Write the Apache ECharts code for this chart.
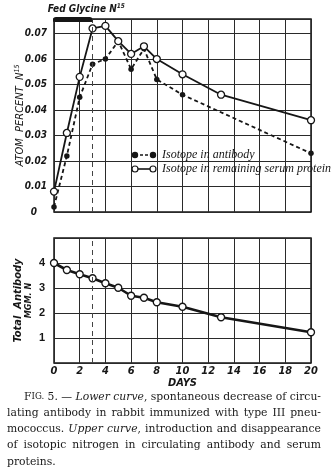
<!DOCTYPE html>
<html>
<head>
<meta charset="utf-8">
<style>
  html, body { margin: 0; padding: 0; background: #fff; }
  #chart { width: 331px; height: 468px; }
</style>
<script src="https://cdn.jsdelivr.net/npm/echarts@6/dist/echarts.min.js"></script>
</head>
<body>
<div id="chart"></div>
<script>
// ---- data ----
const isoDays = [0, 1, 2, 3, 4, 5, 6, 7, 8, 10, 13, 20];
const serumN15 = [0.008, 0.031, 0.053, 0.072, 0.073, 0.067, 0.062, 0.065, 0.060, 0.054, 0.046, 0.036];
const antibodyDays = [0, 1, 2, 3, 4, 5, 6, 7, 8, 10, 20];
const antibodyN15 = [0.002, 0.022, 0.045, 0.058, 0.060, 0.067, 0.056, 0.064, 0.052, 0.046, 0.023];
const totalDays = [0, 1, 2, 3, 4, 5, 6, 7, 8, 10, 13, 20];
const totalAntibody = [4.0, 3.72, 3.55, 3.39, 3.19, 3.01, 2.69, 2.61, 2.43, 2.25, 1.83, 1.23];
const fedPeriod = [0, 3];
const dayTicks = [0, 2, 4, 6, 8, 10, 12, 14, 16, 18, 20];
const legendNames = ['Isotope in antibody', 'Isotope in remaining serum protein'];
const captionLines = [
  ['{f|F}{sc|IG.}', '5.', '—', '{i|Lower}', '{i|curve}{r|,}', 'spontaneous', 'decrease', 'of', 'circu-'],
  ['lating', 'antibody', 'in', 'rabbit', 'immunized', 'with', 'type', 'III', 'pneu-'],
  ['mococcus.', '{i|Upper}', '{i|curve}{r|,}', 'introduction', 'and', 'disappearance'],
  ['of', 'isotopic', 'nitrogen', 'in', 'circulating', 'antibody', 'and', 'serum'],
  ['proteins.']
];

const INK = '#161616';
const LABEL_FONT = '"Liberation Sans Narrow", "DejaVu Sans Condensed", sans-serif';
const SERIF = '"DejaVu Serif", serif';

const zip = (xs, ys) => xs.map((x, i) => [x, ys[i]]);

const chart = echarts.init(document.getElementById('chart'), null, { renderer: 'canvas' });

const splitStyle = { show: true, lineStyle: { color: '#2a2a2a', width: 1 } };
const dayMark = {
  silent: true,
  symbol: 'none',
  label: { show: false },
  lineStyle: { color: '#444', width: 1, type: [5, 4] },
  data: [{ xAxis: fedPeriod[1] }]
};

const TOP_MAX = 0.0757;

chart.setOption({
  animation: false,
  backgroundColor: '#fff',
  grid: [
    { left: 54, right: 20, top: 19, height: 193, show: true, borderColor: INK, borderWidth: 1.5, backgroundColor: 'transparent' },
    { left: 54, right: 20, top: 238, height: 125, show: true, borderColor: INK, borderWidth: 1.5, backgroundColor: 'transparent' }
  ],
  xAxis: [
    {
      gridIndex: 0, type: 'value', min: 0, max: 20, interval: 2,
      axisLine: { show: false }, axisTick: { show: false }, axisLabel: { show: false },
      splitLine: splitStyle
    },
    {
      gridIndex: 1, type: 'value', min: 0, max: 20, interval: 2,
      axisLine: { show: false }, axisTick: { show: false },
      axisLabel: {
        margin: 3, color: INK, fontFamily: LABEL_FONT, fontStyle: 'italic', fontWeight: 'bold', fontSize: 11,
        formatter: v => (dayTicks.includes(v) ? String(v) : '')
      },
      splitLine: splitStyle,
      name: 'DAYS', nameLocation: 'middle', nameGap: 15, nameMoveOverlap: false,
      nameTextStyle: { color: INK, fontFamily: LABEL_FONT, fontStyle: 'italic', fontWeight: 'bold', fontSize: 11 }
    }
  ],
  yAxis: [
    {
      gridIndex: 0, type: 'value', min: 0, max: TOP_MAX, interval: 0.01,
      axisLine: { show: false }, axisTick: { show: false },
      axisLabel: {
        margin: 7, color: INK, fontFamily: LABEL_FONT, fontStyle: 'italic', fontWeight: 'bold', fontSize: 10,
        formatter: v => (v > 0.0705 ? '' : v === 0 ? '{z|0}' : v.toFixed(2)),
        rich: { z: { padding: [0, 10, 0, 0], fontFamily: LABEL_FONT, fontStyle: 'italic', fontWeight: 'bold', fontSize: 10, color: INK } }
      },
      splitLine: splitStyle,
      name: '{a|ATOM  PERCENT  N}{s|15}', nameLocation: 'middle', nameRotate: 90, nameGap: 27, nameMoveOverlap: false,
      nameTextStyle: {
        rich: {
          a: { fontFamily: LABEL_FONT, fontStyle: 'italic', fontSize: 11, color: INK },
          s: { fontFamily: LABEL_FONT, fontStyle: 'italic', fontSize: 7, color: INK, verticalAlign: 'top', padding: [0, 0, 6, 0] }
        }
      }
    },
    {
      gridIndex: 1, type: 'value', min: 0, max: 5, interval: 1,
      axisLine: { show: false }, axisTick: { show: false },
      axisLabel: {
        margin: 9, color: INK, fontFamily: '"Liberation Sans", sans-serif', fontWeight: 'bold', fontSize: 11,
        formatter: v => (v >= 1 && v <= 4 ? String(v) : '')
      },
      splitLine: splitStyle,
      name: '{a|Total  Antibody}\n{b|MGM. N}', nameLocation: 'middle', nameRotate: 90, nameGap: 20, nameMoveOverlap: false,
      nameTextStyle: {
        rich: {
          a: { fontFamily: LABEL_FONT, fontStyle: 'italic', fontWeight: 'bold', fontSize: 11, color: INK, lineHeight: 11 },
          b: { fontFamily: LABEL_FONT, fontStyle: 'italic', fontWeight: 'bold', fontSize: 9, color: INK, lineHeight: 10 }
        }
      }
    }
  ],
  series: [
    {
      name: legendNames[0], type: 'line', xAxisIndex: 0, yAxisIndex: 0,
      data: zip(antibodyDays, antibodyN15),
      symbol: 'circle', symbolSize: 5.5, z: 3,
      itemStyle: { color: INK },
      lineStyle: { color: INK, width: 1.8, type: [4, 3] },
      markLine: dayMark
    },
    {
      name: legendNames[1], type: 'line', xAxisIndex: 0, yAxisIndex: 0,
      data: zip(isoDays, serumN15),
      symbol: 'circle', symbolSize: 7, z: 4,
      itemStyle: { color: '#fff', borderColor: INK, borderWidth: 1.3 },
      lineStyle: { color: INK, width: 1.8 }
    },
    {
      name: 'Total antibody', type: 'line', xAxisIndex: 1, yAxisIndex: 1,
      data: zip(totalDays, totalAntibody),
      symbol: 'circle', symbolSize: 7, z: 4,
      itemStyle: { color: '#fff', borderColor: INK, borderWidth: 1.3 },
      lineStyle: { color: INK, width: 2.6 },
      markLine: dayMark
    }
  ]
});

// ---- annotations: feeding period bar, legend, caption ----
const graphics = [];

const p0 = chart.convertToPixel({ gridIndex: 0 }, [fedPeriod[0], TOP_MAX]);
const p1 = chart.convertToPixel({ gridIndex: 0 }, [fedPeriod[1], TOP_MAX]);
graphics.push({
  type: 'rect', z: 10,
  shape: { x: p0[0] - 1, y: p0[1] - 2, width: p1[0] - p0[0] + 1, height: 5, r: [3, 3, 1, 1] },
  style: { fill: INK }
});
graphics.push({
  type: 'text', z: 10, x: (p0[0] + p1[0]) / 2 + 13, y: p0[1] - 10,
  style: {
    text: '{a|Fed Glycine N}{s|15}', align: 'center', verticalAlign: 'middle',
    rich: {
      a: { fontFamily: LABEL_FONT, fontStyle: 'italic', fontWeight: 'bold', fontSize: 10, fill: INK },
      s: { fontFamily: LABEL_FONT, fontStyle: 'italic', fontWeight: 'bold', fontSize: 6.5, fill: INK, verticalAlign: 'top', padding: [0, 0, 5, 0] }
    }
  }
});

// legend rows
const legendRows = [
  { y: 155, dashed: true, filled: true, text: legendNames[0] },
  { y: 169, dashed: false, filled: false, text: legendNames[1] }
];
legendRows.forEach(row => {
  graphics.push({
    type: 'line', z: 10,
    shape: { x1: 135, y1: row.y, x2: 153, y2: row.y },
    style: { stroke: INK, lineWidth: 1.6, lineDash: row.dashed ? [3, 2] : null }
  });
  [135, 153].forEach(cx => {
    graphics.push({
      type: 'circle', z: 11,
      shape: { cx: cx, cy: row.y, r: row.filled ? 2.6 : 3 },
      style: { fill: row.filled ? INK : '#fff', stroke: INK, lineWidth: 1.2 }
    });
  });
  graphics.push({
    type: 'text', z: 11, x: 162, y: row.y,
    style: { text: row.text, font: 'italic 12px "Liberation Serif", serif', fill: INK, verticalAlign: 'middle' }
  });
});

// caption, justified word by word
const CAP_SIZE = 10.8;
const capFonts = {
  r: `${CAP_SIZE}px ${SERIF}`,
  i: `italic ${CAP_SIZE}px ${SERIF}`,
  f: `${CAP_SIZE}px ${SERIF}`,
  sc: `${(CAP_SIZE * 0.8).toFixed(2)}px ${SERIF}`
};
const capRich = {};
Object.keys(capFonts).forEach(k => { capRich[k] = { font: capFonts[k], fill: '#1a1a1a' }; });

const measureCtx = document.createElement('canvas').getContext('2d');
function parseWord(w) {
  if (w.indexOf('{') !== 0) return [['r', w]];
  const parts = [];
  const re = /\{(\w+)\|([^}]*)\}/g;
  let m;
  while ((m = re.exec(w))) parts.push([m[1], m[2]]);
  return parts;
}
function wordWidth(parts) {
  return parts.reduce((s, [k, t]) => { measureCtx.font = capFonts[k]; return s + measureCtx.measureText(t).width; }, 0);
}
const capRight = 321;
const capLeft = 7;
const capIndent = 24;
const capTop = 397;
const capStep = 16.2;
measureCtx.font = capFonts.r;
const spaceW = measureCtx.measureText(' ').width;
captionLines.forEach((words, li) => {
  const parsed = words.map(parseWord);
  const widths = parsed.map(wordWidth);
  const left = li === 0 ? capIndent : capLeft;
  const total = widths.reduce((a, b) => a + b, 0);
  const last = li === captionLines.length - 1;
  let gap = last || words.length < 2 ? spaceW : (capRight - left - total) / (words.length - 1);
  gap = Math.max(gap, spaceW * 0.7);
  let x = left;
  parsed.forEach((parts, wi) => {
    graphics.push({
      type: 'text', z: 10, x: x, y: capTop + li * capStep,
      style: {
        text: parts.map(([k, t]) => `{${k}|${t}}`).join(''),
        rich: capRich, verticalAlign: 'middle', align: 'left'
      }
    });
    x += widths[wi] + gap;
  });
});

chart.setOption({ graphic: { elements: graphics } });
</script>
</body>
</html>
